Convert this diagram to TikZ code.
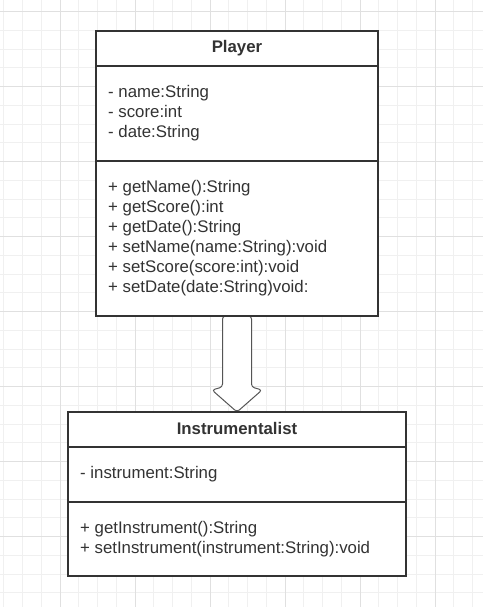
\documentclass[tikz,border=0pt]{standalone}
\usepackage{fontspec}
\setmainfont{Liberation Sans}
\usetikzlibrary{calc}
\definecolor{ink}{HTML}{333333}
\definecolor{gridminor}{HTML}{F0F0F0}
\definecolor{gridmajor}{HTML}{E0E0E0}
\definecolor{arrowc}{HTML}{555555}
\begin{document}
\begin{tikzpicture}[x=1pt,y=-1pt,
  box/.style={draw=ink, line width=2pt, fill=white, inner sep=0pt, outer sep=0pt, anchor=north west},
  txt/.style={anchor=base west, inner sep=0pt, text=ink, font=\fontsize{16.8}{20}\selectfont},
  title/.style={anchor=base, inner sep=0pt, text=ink, font=\fontsize{16.8}{20}\selectfont\bfseries},
  sep/.style={draw=ink, line width=2pt},
  minorline/.style={draw=gridminor, line width=1pt},
  majorline/.style={draw=gridmajor, line width=1pt},
  arr/.style={draw=arrowc, line width=1pt, fill=white, rounded corners=3pt}]
\useasboundingbox (0,0) rectangle (483,607);
\fill[white] (0,0) rectangle (483,607);
% grid
\foreach \k in {0,...,25} \draw[minorline] ({3.75+18.75*\k},0) -- ({3.75+18.75*\k},607);
\foreach \k in {0,...,31} \draw[minorline] (0,{11.7+18.75*\k}) -- (483,{11.7+18.75*\k});
\foreach \m in {0,...,5} \draw[majorline] ({60+75*\m},0) -- ({60+75*\m},607);
\foreach \m in {0,...,7} \draw[majorline] (0,{11.7+75*\m}) -- (483,{11.7+75*\m});

% Player class
\node[box, minimum width=282pt, minimum height=285pt] (player) at (96,31) {};
\draw[sep] ($(player.north west)+(0,34.7)$) -- ($(player.north east)+(0,34.7)$);
\draw[sep] ($(player.north west)+(0,129.7)$) -- ($(player.north east)+(0,129.7)$);
\node[title] (ptitle) at (237,52.5) {Player};
\node[txt] (pa1) at (108,97.5) {- name:String};
\node[txt] (pa2) at (108,117.5) {- score:int};
\node[txt] (pa3) at (108,137.5) {- date:String};
\node[txt] (pm1) at (108,192.5) {+ getName():String};
\node[txt] (pm2) at (108,212.5) {+ getScore():int};
\node[txt] (pm3) at (108,232.5) {+ getDate():String};
\node[txt] (pm4) at (108,252.5) {+ setName(name:String):void};
\node[txt] (pm5) at (108,272.5) {+ setScore(score:int):void};
\node[txt] (pm6) at (108,292.5) {+ setDate(date:String)void:};

% Instrumentalist class
\node[box, minimum width=338pt, minimum height=164pt] (inst) at (68,412) {};
\draw[sep] ($(inst.north west)+(0,35)$) -- ($(inst.north east)+(0,35)$);
\draw[sep] ($(inst.north west)+(0,90)$) -- ($(inst.north east)+(0,90)$);
\node[title] (ititle) at (237,434.5) {Instrumentalist};
\node[txt] (ia1) at (80,478.5) {- instrument:String};
\node[txt] (im1) at (80,533) {+ getInstrument():String};
\node[txt] (im2) at (80,553) {+ setInstrument(instrument:String):void};

% generalisation arrow
\draw[arr] ($(player.south)+(-14.5,0)$) -- ($(player.south)+(-14.5,71)$)
  -- ($(player.south)+(-25,74)$) -- (inst.north)
  -- ($(player.south)+(25,74)$) -- ($(player.south)+(14.5,71)$)
  -- ($(player.south)+(14.5,0)$) -- cycle;
\draw[sep] (player.south west) -- (player.south east);
\draw[sep] (inst.north west) -- (inst.north east);
\end{tikzpicture}
\end{document}
